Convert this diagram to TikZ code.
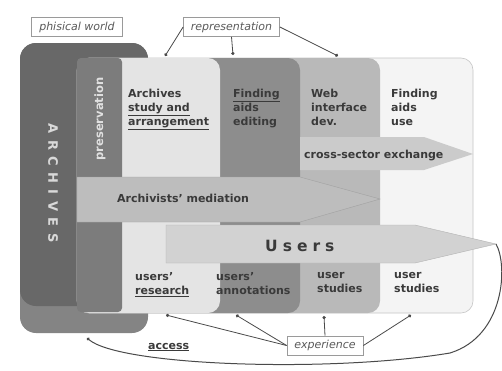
\documentclass[tikz,border=0pt]{standalone}
\usepackage{fontspec}
\setmainfont{DejaVu Sans}
\usetikzlibrary{arrows.meta}
\definecolor{archdark}{HTML}{686868}
\definecolor{archband}{HTML}{848484}
\definecolor{presc}{HTML}{7C7C7C}
\definecolor{colA}{HTML}{E4E4E4}
\definecolor{colB}{HTML}{8D8D8D}
\definecolor{colC}{HTML}{B9B9B9}
\definecolor{colD}{HTML}{F4F4F4}
\definecolor{colDline}{HTML}{C6C6C6}
\definecolor{arrMed}{HTML}{BDBDBD}
\definecolor{arrCross}{HTML}{CBCBCB}
\definecolor{arrUsers}{HTML}{D2D2D2}
\definecolor{txt}{HTML}{3A3A3A}
\definecolor{tagtxt}{HTML}{5A5A5A}
\definecolor{tagline}{HTML}{9A9A9A}
\definecolor{linkc}{HTML}{4A4A4A}
\begin{document}
\begin{tikzpicture}[x=1pt,y=-1pt,
  lbl/.style={font=\fontsize{11}{14}\selectfont\bfseries, text=txt, align=left, anchor=north west, inner sep=0pt},
  tagbox/.style={draw=tagline, line width=0.6pt, fill=white, font=\fontsize{11}{13}\selectfont\itshape, text=tagtxt, inner xsep=7.5pt, inner ysep=0pt, minimum height=19pt},
  link/.style={draw=linkc, line width=0.8pt},
  dotend/.style={-{Circle[length=3.2pt]}},
  ul/.style={}]
\useasboundingbox (0,0) rectangle (502,370);
\fill[white] (0,0) rectangle (502,370);
% ARCHIVES block
\fill[archband, rounded corners=16pt] (20,43) rectangle (148,333);
\fill[archdark, rounded corners=16pt] (20,43) rectangle (148,306);
% columns, from right to left
\filldraw[fill=colD, draw=colDline, line width=0.6pt, rounded corners=12pt] (77,58) rectangle (473,313);
\fill[colC, rounded corners=12pt] (77,58) rectangle (380,313);
\fill[colB, rounded corners=12pt] (77,58) rectangle (300,313);
\fill[colA, rounded corners=12pt] (77,58) rectangle (220,313);
\fill[presc, rounded corners=4pt] (77,58) rectangle (122,312);
% arrows
\fill[arrCross] (300,137) -- (424,137) -- (473,154) -- (424,170) -- (300,170) -- cycle;
\filldraw[fill=arrMed, draw=arrMed!85!black, line width=0.4pt] (77,177) -- (300,177) -- (380,199) -- (300,222) -- (77,222) -- cycle;
\filldraw[fill=arrUsers, draw=arrUsers!85!black, line width=0.4pt] (166,225) -- (415,225) -- (496,244) -- (415,263) -- (166,263) -- cycle;
% vertical titles
\node[rotate=-90, text=white!85!black, font=\fontsize{13}{13}\selectfont\bfseries, inner sep=0pt] (archives) at (53,183)
  {A\kern6.5pt R\kern6.5pt C\kern6.5pt H\kern6.5pt I\kern6.5pt V\kern6.5pt E\kern6.5pt S};
\node[rotate=90, text=white!88!black, font=\fontsize{11.5}{12}\selectfont\bfseries, inner sep=0pt] (preservation) at (100,119) {preservation};
% column texts
\node[lbl] (study) at (128,88.5) {Archives\\\underline{study and}\\\underline{arrangement}};
\node[lbl] (editing) at (233,88.5) {\underline{Finding}\\aids\\editing};
\node[lbl] (webdev) at (311,88.5) {Web\\interface\\dev.};
\node[lbl] (use) at (391,88.5) {Finding\\aids\\use};
\node[lbl, anchor=base west] (cross) at (304,158) {cross-sector exchange};
\node[lbl, anchor=base west] (mediation) at (117,202.5) {Archivists' mediation};
\node[text=txt, font=\fontsize{15.5}{16}\selectfont\bfseries, anchor=base west, inner sep=0pt] (users) at (265,251.5)
  {U\kern5pt s\kern5pt e\kern5pt r\kern5pt s};
\node[lbl] (research) at (135,272.5) {users'\\\underline{research}};
\node[lbl] (annot) at (216,272.5) {users'\\annotations};
\node[lbl] (studiesA) at (317,272.5) {user\\studies};
\node[lbl] (studiesB) at (394,272.5) {user\\studies};
\node[lbl, anchor=base west, font=\fontsize{11}{14}\selectfont\bfseries] (access) at (148,349) {\underline{access}};
% tags
\node[tagbox] (phisical) at (77,27) {phisical world};
\node[tagbox] (repr) at (231.5,27) {representation};
\node[tagbox] (exper) at (325,345.5) {experience};
% connector end points
\coordinate (rA) at (165,56);
\coordinate (rB) at (233,55);
\coordinate (rC) at (338,56);
\coordinate (eA) at (166,315);
\coordinate (eB) at (236,315);
\coordinate (eC) at (324,316);
\coordinate (eD) at (411,315);
\coordinate (accS) at (87,338);
\coordinate (tip) at (496,244);
\draw[link, dotend] (repr.west) -- (rA);
\draw[link, dotend] (repr.south) -- (rB);
\draw[link, dotend] (repr.east) -- (rC);
\draw[link, dotend] (exper.west) -- (eA);
\draw[link, dotend] (exper.west) -- (eB);
\draw[link, dotend] (exper.north) -- (eC);
\draw[link, dotend] (exper.east) -- (eD);
\draw[link, line width=1pt, {Circle[length=3pt]}-] (accS) .. controls (120,366) and (330,373) .. (450,353) .. controls (505,336) and (508,265) .. (tip);
\end{tikzpicture}
\end{document}
